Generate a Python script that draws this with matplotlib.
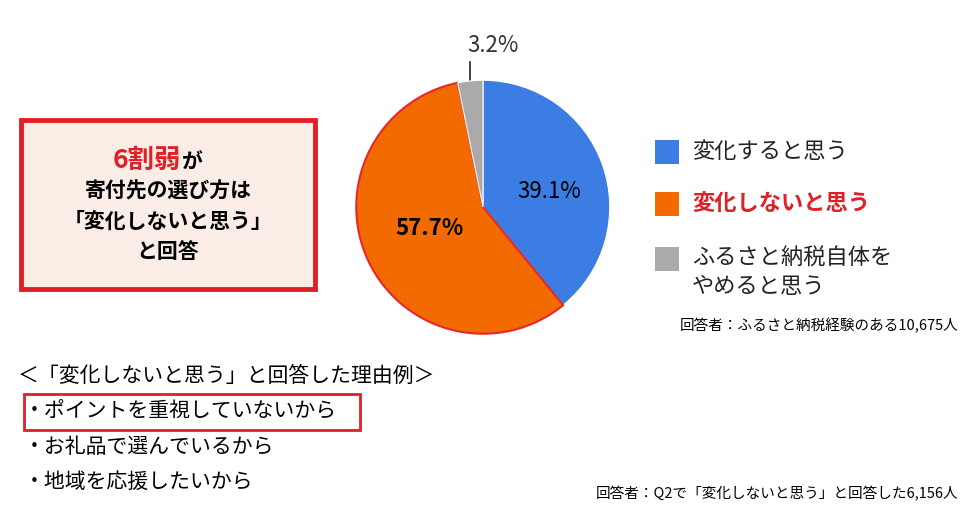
import matplotlib.pyplot as plt
from matplotlib.patches import Rectangle

plt.rcParams['font.family'] = ['Noto Sans CJK JP', 'DejaVu Sans']

labels = ['変化すると思う', '変化しないと思う', 'ふるさと納税自体を\nやめると思う']
shares = [39.1, 57.7, 3.2]
colors = ['#3b7de3', '#f26a00', '#aaaaaa']
edges = ['white', '#e8262b', 'white']
reasons = ['・ポイントを重視していないから', '・お礼品で選んでいるから', '・地域を応援したいから']

W, H = 980, 531
fig = plt.figure(figsize=(W / 100, H / 100), dpi=100)
ov = fig.add_axes([0, 0, 1, 1])
ov.set_xlim(0, W)
ov.set_ylim(H, 0)
ov.axis('off')

# pie
cx, cy, r = 483, 207, 128
pax = fig.add_axes([(cx - r) / W, (H - cy - r) / H, 2 * r / W, 2 * r / H])
wedges, _ = pax.pie(shares, colors=colors, startangle=90, counterclock=False)
for w, ec in zip(wedges, edges):
    w.set_edgecolor(ec)
    w.set_linewidth(1.5 if ec != 'white' else 0.8)
pax.set_xlim(-1.01, 1.01)
pax.set_ylim(-1.01, 1.01)
pax.set_aspect('equal')
pax.text(0.52, 0.12, f'{shares[0]}%', fontsize=16, ha='center', va='center')
pax.text(-0.42, -0.17, f'{shares[1]}%', fontsize=16, fontweight='bold', ha='center', va='center')
ov.text(493, 45, f'{shares[2]}%', fontsize=16, ha='center', va='center', color='#333333')
ov.plot([470, 470], [62, 100], color='#222222', lw=1.2)

# left box
ov.add_patch(Rectangle((21, 120), 294, 169, facecolor='#f9ede6', edgecolor='#e01f26', lw=3.5))
ov.text(181, 160, '6割弱', fontsize=19, fontweight='bold', color='#e01f26', ha='right', va='center')
ov.text(182, 162, 'が', fontsize=15, fontweight='bold', ha='left', va='center')
for i, s in enumerate(['寄付先の選び方は', '「変化しないと思う」', 'と回答']):
    ov.text(168, 191 + i * 30, s, fontsize=15, fontweight='bold', ha='center', va='center')

# legend
ly = [152, 204, 259]
for i, (lab, c) in enumerate(zip(labels, colors)):
    ov.add_patch(Rectangle((655, ly[i] - 12), 24, 24, facecolor=c, edgecolor='none'))
    kw = dict(fontweight='bold', color='#e01f26') if i == 1 else dict(color='#222222')
    ov.text(692, ly[i] + (13 if i == 2 else 0), lab, fontsize=16, va='center', linespacing=1.3, **kw)
ov.text(958, 326, '回答者：ふるさと納税経験のある10,675人', fontsize=10.5, ha='right', va='center')

# reasons
ov.text(18, 376, '＜「変化しないと思う」と回答した理由例＞', fontsize=15, va='center')
for i, s in enumerate(reasons):
    ov.text(24, 412 + i * 35, s, fontsize=15, va='center')
ov.add_patch(Rectangle((24, 394), 336, 36, facecolor='none', edgecolor='#e01f26', lw=2))
ov.text(958, 494, '回答者：Q2で「変化しないと思う」と回答した6,156人', fontsize=10.5, ha='right', va='center')

fig.savefig('out.png', dpi=100)
